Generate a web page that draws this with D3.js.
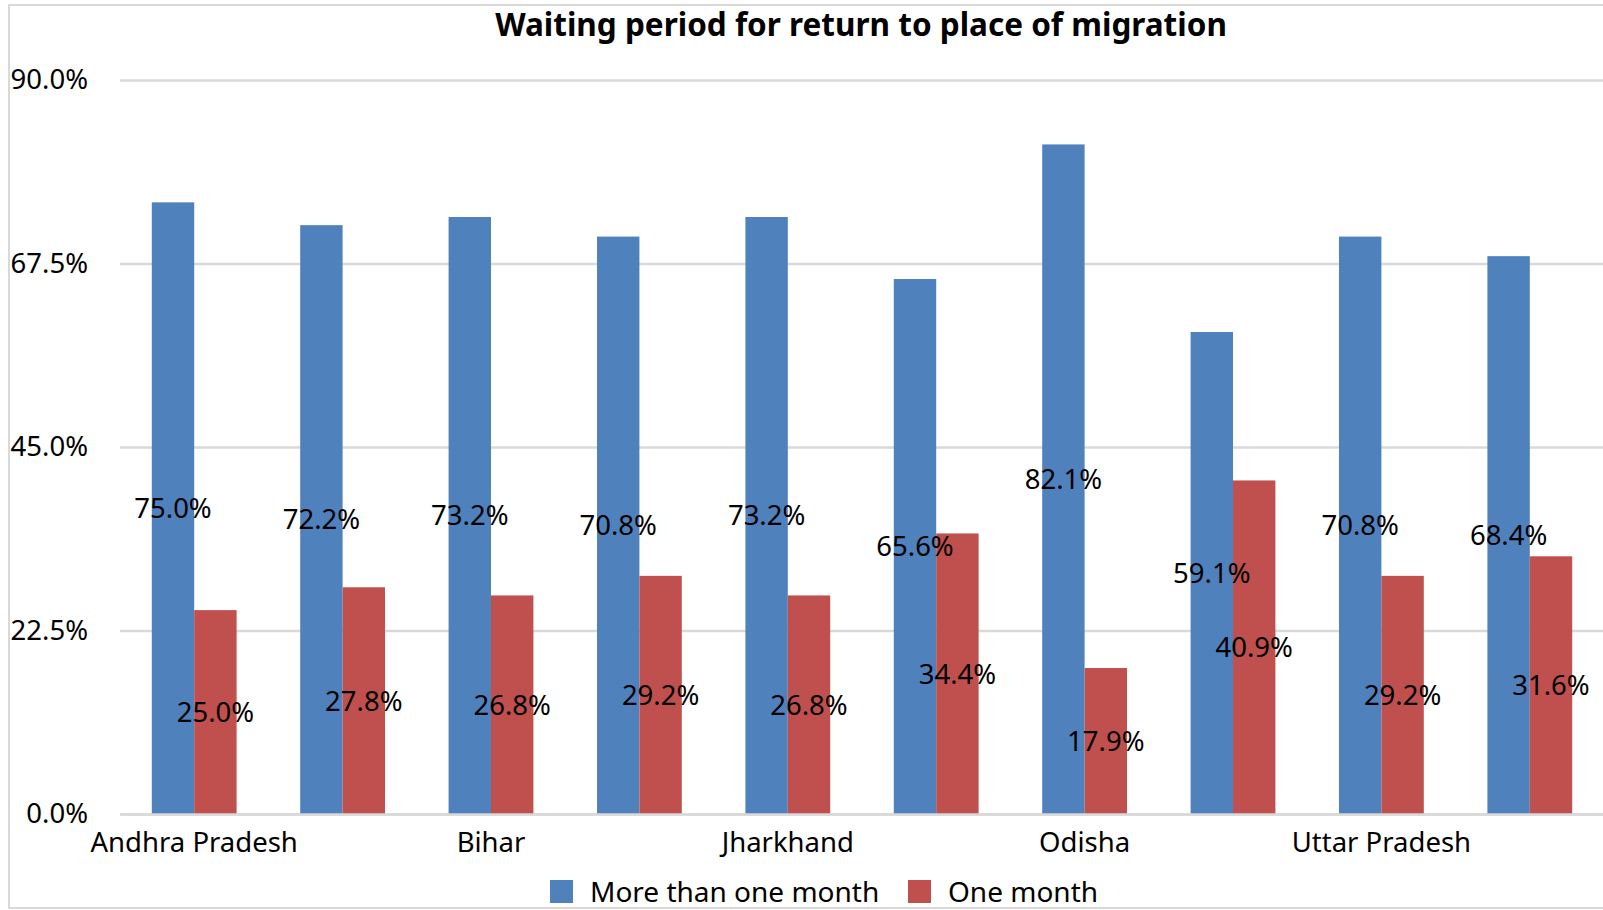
<!DOCTYPE html>
<html lang="en">
<head>
  <meta charset="UTF-8">
  <script src="https://d3js.org/d3.v7.min.js"></script>
  <title>Waiting period for return to place of migration</title>
  <style>
    body { margin: 0; background: #fff; }
    text { font-family: "Noto Sans", "Open Sans", sans-serif; fill: #000; }
  </style>
</head>
<body>
<div id="chart"></div>
<script>
  // categories (only every other one has a label in the original)
  const categories = ["Andhra Pradesh", "", "Bihar", "", "Jharkhand", "", "Odisha", "", "Uttar Pradesh", ""];
  const seriesNames = ["More than one month", "One month"];
  const moreThanOneMonth = [75.0, 72.2, 73.2, 70.8, 73.2, 65.6, 82.1, 59.1, 70.8, 68.4];
  const oneMonth = [25.0, 27.8, 26.8, 29.2, 26.8, 34.4, 17.9, 40.9, 29.2, 31.6];
  const yTicks = [0, 22.5, 45, 67.5, 90];
  const colors = ["#4F81BD", "#C0504D"];

  const W = 1603, H = 910;
  // plot area (extends a little past the right edge, like the original crop)
  const margin = { top: 80, left: 120, bottom: H - 814 };
  const plotW = 1484;

  const svg = d3.select("#chart").append("svg")
    .attr("width", W).attr("height", H);

  // chart border
  svg.append("rect")
    .attr("x", 9).attr("y", 5)
    .attr("width", 1620).attr("height", 903)
    .attr("fill", "none").attr("stroke", "#D9D9D9").attr("stroke-width", 2);

  const x0 = d3.scaleBand()
    .domain(d3.range(categories.length))
    .range([margin.left, margin.left + plotW])
    .paddingInner(1.5 / 3.5).paddingOuter(0.75 / 3.5);

  const x1 = d3.scaleBand()
    .domain([0, 1])
    .range([0, x0.bandwidth()]);

  const y = d3.scaleLinear()
    .domain([0, 90])
    .range([H - margin.bottom, margin.top]);

  // gridlines + y labels
  const yAxis = svg.append("g")
    .attr("transform", `translate(${margin.left},0)`)
    .call(d3.axisLeft(y).tickValues(yTicks).tickSize(-plotW).tickPadding(32)
      .tickFormat(d => d.toFixed(1) + "%"));
  yAxis.select(".domain").remove();
  yAxis.selectAll(".tick line").attr("stroke", "#D9D9D9").attr("stroke-width", 2.5);
  yAxis.selectAll(".tick text").attr("font-size", 27.5).attr("fill", "#000")
    .attr("font-family", "Noto Sans, sans-serif");

  // bars
  const rows = categories.map((c, i) => ({ i, vals: [moreThanOneMonth[i], oneMonth[i]] }));
  const groups = svg.selectAll("g.grp")
    .data(rows)
    .join("g")
    .attr("class", "grp")
    .attr("transform", d => `translate(${x0(d.i)},0)`);

  groups.selectAll("rect")
    .data(d => d.vals.map((v, s) => ({ v, s })))
    .join("rect")
    .attr("x", d => x1(d.s))
    .attr("y", d => y(d.v))
    .attr("width", x1.bandwidth())
    .attr("height", d => y(0) - y(d.v))
    .attr("fill", d => colors[d.s]);

  // data labels, centred in each bar
  groups.selectAll("text")
    .data(d => d.vals.map((v, s) => ({ v, s })))
    .join("text")
    .attr("x", d => x1(d.s) + x1.bandwidth() / 2)
    .attr("y", d => (y(d.v) + y(0)) / 2)
    .attr("dy", "0.36em")
    .attr("text-anchor", "middle")
    .attr("font-size", 27.5)
    .text(d => d.v.toFixed(1) + "%");

  // x axis labels
  const xAxis = svg.append("g")
    .attr("transform", `translate(0,${y(0)})`)
    .call(d3.axisBottom(x0).tickSize(0).tickPadding(18)
      .tickFormat(i => categories[i]));
  xAxis.select(".domain").attr("stroke", "#D9D9D9").attr("stroke-width", 2.5);
  xAxis.selectAll(".tick text").attr("font-size", 27.5).attr("fill", "#000")
    .attr("font-family", "Noto Sans, sans-serif");

  // title
  svg.append("text")
    .attr("x", 861).attr("y", 25)
    .attr("dy", "0.35em")
    .attr("text-anchor", "middle")
    .attr("font-size", 31.5)
    .attr("font-weight", "bold")
    .text("Waiting period for return to place of migration");

  // legend
  const legend = svg.append("g").attr("transform", "translate(550,892)");
  const legX = [0, 358];
  seriesNames.forEach((name, s) => {
    const g = legend.append("g").attr("transform", `translate(${legX[s]},0)`);
    g.append("rect").attr("x", 0).attr("y", -12).attr("width", 23).attr("height", 23)
      .attr("fill", colors[s]);
    g.append("text").attr("x", 40).attr("y", 0).attr("dy", "0.36em")
      .attr("font-size", 28).text(name);
  });
</script>
</body>
</html>
